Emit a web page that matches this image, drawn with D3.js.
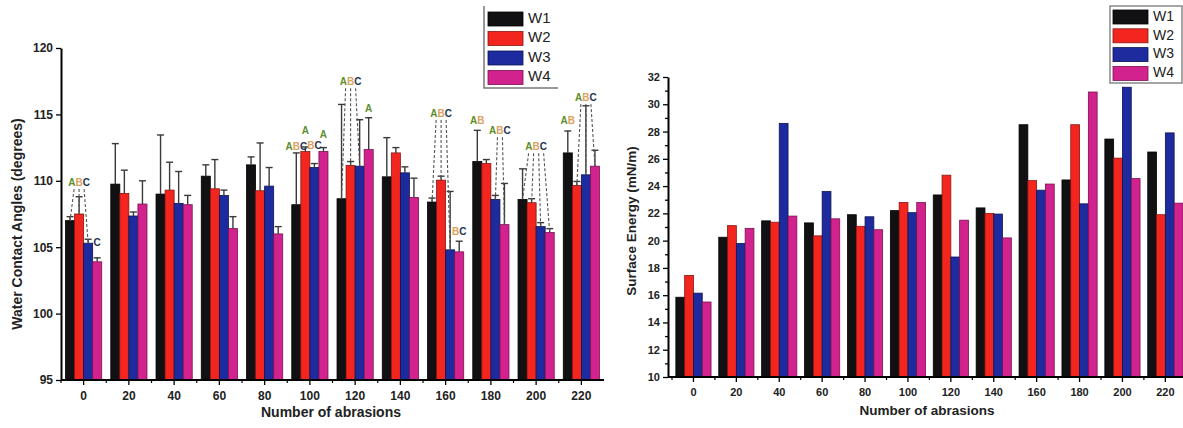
<!DOCTYPE html>
<html>
<head>
<meta charset="utf-8">
<script src="https://cdn.jsdelivr.net/npm/d3@7"></script>
<style>
  html, body { margin: 0; padding: 0; background: #fff; }
  svg { display: block; font-family: "Liberation Sans", Arial, sans-serif; }
  .tick text { font-weight: bold; fill: #222; }
</style>
</head>
<body>
<svg id="chart" width="1183" height="428"></svg>
<script>
const categories = ['0', '20', '40', '60', '80', '100', '120', '140', '160', '180', '200', '220']
const series = ['W1', 'W2', 'W3', 'W4']
const colors = ['#111114', '#f2261f', '#1d2b9e', '#d2228e']
const strokes = ['#000', '#8a1410', '#0c1450', '#7a1050']

// Water contact angle (degrees), one array per wood sample
const wcaW1 = [107.0, 109.75, 109.0, 110.35, 111.2, 108.2, 108.65, 110.3, 108.4, 111.45, 108.6, 112.1]
const wcaW2 = [107.5, 109.05, 109.3, 109.4, 109.25, 112.2, 111.15, 112.1, 110.05, 111.3, 108.35, 109.65]
const wcaW3 = [105.3, 107.35, 108.3, 108.9, 109.6, 111.0, 111.1, 110.6, 104.8, 108.6, 106.55, 110.45]
const wcaW4 = [103.9, 108.25, 108.2, 106.4, 106.0, 112.2, 112.35, 108.75, 104.65, 106.7, 106.1, 111.1]

// upper error (standard deviation) for each bar
const errW1 = [0.3, 3.05, 4.45, 0.85, 0.6, 3.9, 7.1, 2.95, 0.3, 2.35, 2.3, 1.65]
const errW2 = [1.3, 1.75, 2.1, 2.2, 3.6, 0.35, 0.3, 0.4, 0.3, 0.3, 0.3, 0.3]
const errW3 = [0.3, 0.3, 2.4, 0.4, 1.4, 0.3, 3.5, 0.45, 4.4, 0.3, 0.3, 5.2]
const errW4 = [0.3, 1.75, 0.7, 0.9, 0.55, 0.3, 2.4, 1.45, 0.8, 3.1, 0.3, 1.2]

// Surface energy (mN/m)
const seW1 = [15.85, 20.25, 21.45, 21.3, 21.9, 22.2, 23.35, 22.4, 28.5, 24.45, 27.45, 26.5]
const seW2 = [17.45, 21.1, 21.35, 20.35, 21.05, 22.8, 24.8, 22.0, 24.4, 28.5, 26.05, 21.9]
const seW3 = [16.15, 19.8, 28.6, 23.6, 21.75, 22.05, 18.8, 21.95, 23.7, 22.7, 31.25, 27.9]
const seW4 = [15.5, 20.9, 21.8, 21.6, 20.8, 22.8, 21.5, 20.2, 24.15, 30.9, 24.55, 22.75]

const wcaTicks = [95, 100, 105, 110, 115, 120]
const seTicks = [10, 12, 14, 16, 18, 20, 22, 24, 26, 28, 30, 32]
const seMinorTicks = [11, 13, 15, 17, 19, 21, 23, 25, 27, 29, 31]

// significance letters: group, text, value where the label sits, bars it refers to
const letterGroups = ['0', '0', '100', '100', '100', '100', '120', '120', '160', '160', '180', '180', '200', '220', '220']
const letterTexts = ['ABC', 'C', 'ABC', 'A', 'BC', 'A', 'ABC', 'A', 'ABC', 'BC', 'AB', 'ABC', 'ABC', 'AB', 'ABC']
const letterValues = [109.6, 105.1, 112.3, 113.5, 112.4, 113.2, 117.2, 115.2, 114.8, 105.9, 114.3, 113.5, 112.3, 114.3, 116.0]
const letterBars = [[0, 1, 2], [3], [0], [1], [2], [3], [0, 1, 2], [3], [0, 1, 2], [3], [0], [2, 3], [0, 1, 2, 3], [0], [1, 2, 3]]
const letterColors = { A: '#5e8d2c', B: '#dca25e', C: '#27324f' }

const svg = d3.select('#chart')

function drawPanel(opt) {
  const g = svg.append('g')
  const x0 = d3.scaleBand(categories, opt.xRange).paddingInner(opt.padInner).paddingOuter(opt.padOuter)
  const x1 = d3.scaleBand(series, [0, x0.bandwidth()])
  const y = d3.scaleLinear(opt.yDomain, opt.yRange)
  const rows = series.map((s, i) => opt.values[i].map((v, j) => ({ s, i, cat: categories[j], v, e: opt.errors ? opt.errors[i][j] : 0 })))

  // bars
  g.selectAll('g.series').data(rows).join('g')
    .selectAll('rect').data(d => d).join('rect')
    .attr('x', d => x0(d.cat) + x1(d.s))
    .attr('y', d => y(d.v))
    .attr('width', x1.bandwidth())
    .attr('height', d => y(opt.yDomain[0]) - y(d.v))
    .attr('fill', d => colors[d.i])
    .attr('stroke', d => strokes[d.i])
    .attr('stroke-width', 0.8)

  if (opt.errors) {
    const eb = g.append('g').attr('stroke', '#3a3a3a').attr('stroke-width', 1.4)
    rows.flat().forEach(d => {
      const cx = x0(d.cat) + x1(d.s) + x1.bandwidth() / 2
      eb.append('line').attr('x1', cx).attr('x2', cx).attr('y1', y(d.v)).attr('y2', y(d.v + d.e))
      eb.append('line').attr('x1', cx - 3.5).attr('x2', cx + 3.5).attr('y1', y(d.v + d.e)).attr('y2', y(d.v + d.e))
    })
  }

  if (opt.letters) {
    const lg = g.append('g')
    letterTexts.forEach((t, k) => {
      const cat = letterGroups[k]
      const bars = letterBars[k]
      const centers = bars.map(b => x0(cat) + x1(series[b]) + x1.bandwidth() / 2)
      const lx = d3.mean(centers)
      const ly = y(letterValues[k])
      if (bars.length > 1) {
        bars.forEach((b, n) => {
          const top = opt.values[b][categories.indexOf(cat)]
          lg.append('line')
            .attr('x1', lx + (n - (bars.length - 1) / 2) * 5).attr('y1', ly + 3)
            .attr('x2', centers[n]).attr('y2', y(top))
            .attr('stroke', '#555').attr('stroke-width', 1.1).attr('stroke-dasharray', '3,2')
        })
      }
      const txt = lg.append('text').attr('x', lx).attr('y', ly)
        .attr('text-anchor', 'middle').attr('font-size', 10).attr('font-weight', 'bold')
      t.split('').forEach(ch => txt.append('tspan').attr('fill', letterColors[ch]).text(ch))
    })
  }

  // y axis
  const yAxis = g.append('g').attr('transform', `translate(${opt.axisX},0)`)
    .call(d3.axisLeft(y).tickValues(opt.yTicks).tickSize(5).tickSizeOuter(0).tickPadding(3))
  yAxis.selectAll('text').attr('font-size', opt.tickFont)
  if (opt.yMinor) {
    g.append('g').attr('transform', `translate(${opt.axisX},0)`)
      .call(d3.axisLeft(y).tickValues(opt.yMinor).tickSize(3).tickFormat(''))
      .select('.domain').remove()
  }

  // x axis, major ticks at group centres, minor at group boundaries
  const base = y(opt.yDomain[0])
  const xAxis = g.append('g').attr('transform', `translate(0,${base})`)
    .call(d3.axisBottom(x0).tickSize(5).tickSizeOuter(0).tickPadding(6))
  xAxis.selectAll('text').attr('font-size', opt.tickFont)
  xAxis.select('.domain').attr('d', `M${opt.axisX},0H${opt.xEnd}`)
  const bounds = categories.map(c => x0(c) - x0.step() * x0.paddingInner() / 2)
  g.append('g').selectAll('line').data(bounds).join('line')
    .attr('x1', d => d).attr('x2', d => d).attr('y1', base).attr('y2', base + 3)
    .attr('stroke', '#000').attr('stroke-width', 1.2)

  g.selectAll('.domain').attr('stroke', '#000').attr('stroke-width', 2)
  g.selectAll('.tick line').attr('stroke', '#000').attr('stroke-width', 1.3)

  // axis titles
  g.append('text')
    .attr('transform', `translate(${opt.yTitleX},${opt.yTitleY}) rotate(-90)`)
    .attr('text-anchor', 'middle').attr('dominant-baseline', 'middle')
    .attr('font-size', opt.titleFont).attr('font-weight', 'bold').attr('fill', '#222')
    .text(opt.yTitle)
  g.append('text')
    .attr('x', opt.xTitleX).attr('y', opt.xTitleY)
    .attr('text-anchor', 'middle').attr('dominant-baseline', 'middle')
    .attr('font-size', opt.titleFont).attr('font-weight', 'bold').attr('fill', '#222')
    .text('Number of abrasions')

  // legend
  const L = opt.legend
  const leg = g.append('g').attr('transform', `translate(${L.x},${L.y})`)
  if (L.fullBox) {
    leg.append('rect').attr('width', L.w).attr('height', L.h)
      .attr('fill', '#fff').attr('stroke', '#888').attr('stroke-width', 1.5)
  } else {
    leg.append('path').attr('d', `M0,0V${L.h}H${L.w}`)
      .attr('fill', 'none').attr('stroke', '#777').attr('stroke-width', 1.5)
  }
  series.forEach((s, i) => {
    const ry = L.first + i * L.step
    leg.append('rect').attr('x', L.sx).attr('y', ry - 7).attr('width', 35).attr('height', 14)
      .attr('fill', colors[i]).attr('stroke', strokes[i]).attr('stroke-width', 0.8)
    leg.append('text').attr('x', L.sx + 40).attr('y', ry).attr('dominant-baseline', 'middle')
      .attr('font-size', L.font).attr('fill', '#222').text(s)
  })
}

drawPanel({
  values: [wcaW1, wcaW2, wcaW3, wcaW4],
  errors: [errW1, errW2, errW3, errW4],
  letters: true,
  xRange: [61, 604], padInner: 0.2, padOuter: 0.1,
  axisX: 61, xEnd: 604,
  yDomain: [95, 120], yRange: [380, 48], yTicks: wcaTicks,
  tickFont: 12, titleFont: 14,
  yTitle: 'Water Contact Angles (degrees)', yTitleX: 18, yTitleY: 224,
  xTitleX: 331, xTitleY: 413,
  legend: { x: 484, y: 6, w: 74, h: 82, sx: 4, first: 13, step: 19.5, font: 15, fullBox: false }
})

drawPanel({
  values: [seW1, seW2, seW3, seW4],
  xRange: [672, 1186.8], padInner: 0.18, padOuter: 0.09,
  axisX: 668, xEnd: 1183,
  yDomain: [10, 32], yRange: [377, 77], yTicks: seTicks, yMinor: seMinorTicks,
  tickFont: 11, titleFont: 13.5,
  yTitle: 'Surface Energy (mN/m)', yTitleX: 632, yTitleY: 221,
  xTitleX: 927, xTitleY: 411,
  legend: { x: 1110, y: 6, w: 72, h: 77, sx: 3, first: 11, step: 18.8, font: 14, fullBox: true }
})
</script>
</body>
</html>
